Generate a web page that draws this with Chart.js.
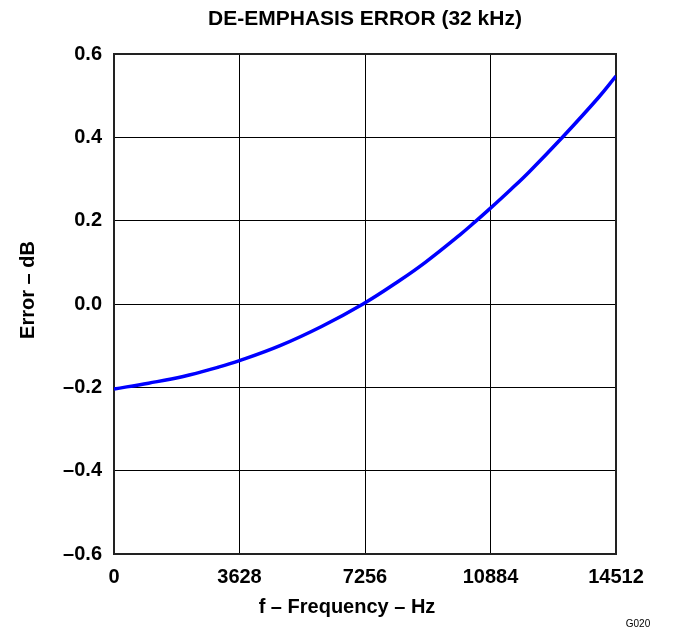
<!DOCTYPE html>
<html>
<head>
<meta charset="utf-8">
<title>De-emphasis error (32 kHz)</title>
<script src="https://cdn.jsdelivr.net/npm/chart.js@4/dist/chart.umd.min.js"></script>
<style>
  html, body { margin: 0; padding: 0; background: #ffffff; }
  #wrap { width: 674px; height: 634px; }
</style>
</head>
<body>
<div id="wrap"><canvas id="chart" width="674" height="634"></canvas></div>
<script>
//values
const freqHz = [0, 1000, 2000, 3000, 3628, 4800, 6000, 7200, 8268, 9000, 10000, 10436, 10884, 11448, 12000, 12951, 14000, 14512];
const errorDb = [-0.204, -0.190, -0.174, -0.152, -0.136, -0.100, -0.054, 0.0, 0.057, 0.100, 0.166, 0.197, 0.230, 0.273, 0.317, 0.399, 0.495, 0.547];
//tick labels
const xTicks = [0, 3628, 7256, 10884, 14512];
const yTicks = [-0.6, -0.4, -0.2, 0.0, 0.2, 0.4, 0.6];

const chartTitle = "DE-EMPHASIS ERROR (32 kHz)";
const xTitle = "f \u2013 Frequency \u2013 Hz";
const yTitle = "Error \u2013 dB";
const figId = "G020";

const FONT = "'Liberation Sans', Arial, Helvetica, sans-serif";

//title, axis titles, frame and figure id
const textPlugin = {
  id: "texts",
  beforeDatasetsDraw(chart) {
    const ctx = chart.ctx;
    const a = chart.chartArea;
    ctx.save();
    ctx.strokeStyle = "#222222";
    ctx.lineWidth = 2;
    ctx.strokeRect(a.left, a.top, a.right - a.left, a.bottom - a.top);
    ctx.restore();
  },
  afterDraw(chart) {
    const ctx = chart.ctx;
    const a = chart.chartArea;
    ctx.save();
    ctx.fillStyle = "#000000";
    ctx.textAlign = "center";
    ctx.textBaseline = "middle";
    ctx.font = "bold 21px " + FONT;
    ctx.fillText(chartTitle, (a.left + a.right) / 2, 19);
    ctx.font = "bold 20px " + FONT;
    ctx.fillText(xTitle, 347, 607);
    ctx.save();
    ctx.translate(28, 290);
    ctx.rotate(-Math.PI / 2);
    ctx.fillText(yTitle, 0, 0);
    ctx.restore();
    ctx.font = "10px " + FONT;
    ctx.fillText(figId, 638, 624);
    ctx.restore();
  }
};

const fmtY = (v) => {
  const s = Math.abs(v).toFixed(1);
  return v < -0.0001 ? "\u2013" + s : s;
};

new Chart(document.getElementById("chart"), {
  type: "line",
  plugins: [textPlugin],
  data: {
    datasets: [{
      data: freqHz.map((f, i) => ({ x: f, y: errorDb[i] })),
      borderColor: "#0000ff",
      borderWidth: 3.5,
      pointRadius: 0,
      fill: false,
      tension: 0.4
    }]
  },
  options: {
    responsive: false,
    animation: false,
    layout: { padding: { top: 54, right: 58, bottom: 0, left: 0 } },
    plugins: {
      legend: { display: false },
      tooltip: { enabled: false },
      title: { display: false }
    },
    scales: {
      x: {
        type: "linear",
        min: 0,
        max: 14512,
        afterFit: (s) => { s.height = 80; },
        afterBuildTicks: (s) => { s.ticks = xTicks.map((v) => ({ value: v })); },
        grid: { color: "#000000", lineWidth: 1, drawTicks: false },
        border: { display: false },
        ticks: {
          color: "#000000",
          padding: 11,
          maxRotation: 0,
          autoSkip: false,
          font: { family: FONT, size: 20, weight: "bold" },
          callback: (v) => String(v)
        }
      },
      y: {
        min: -0.6,
        max: 0.6,
        afterFit: (s) => { s.width = 114; },
        afterBuildTicks: (s) => { s.ticks = yTicks.map((v) => ({ value: v })); },
        grid: { color: "#000000", lineWidth: 1, drawTicks: false },
        border: { display: false },
        ticks: {
          color: "#000000",
          padding: 12,
          autoSkip: false,
          font: { family: FONT, size: 20, weight: "bold" },
          callback: (v) => fmtY(v)
        }
      }
    }
  }
});
</script>
</body>
</html>
